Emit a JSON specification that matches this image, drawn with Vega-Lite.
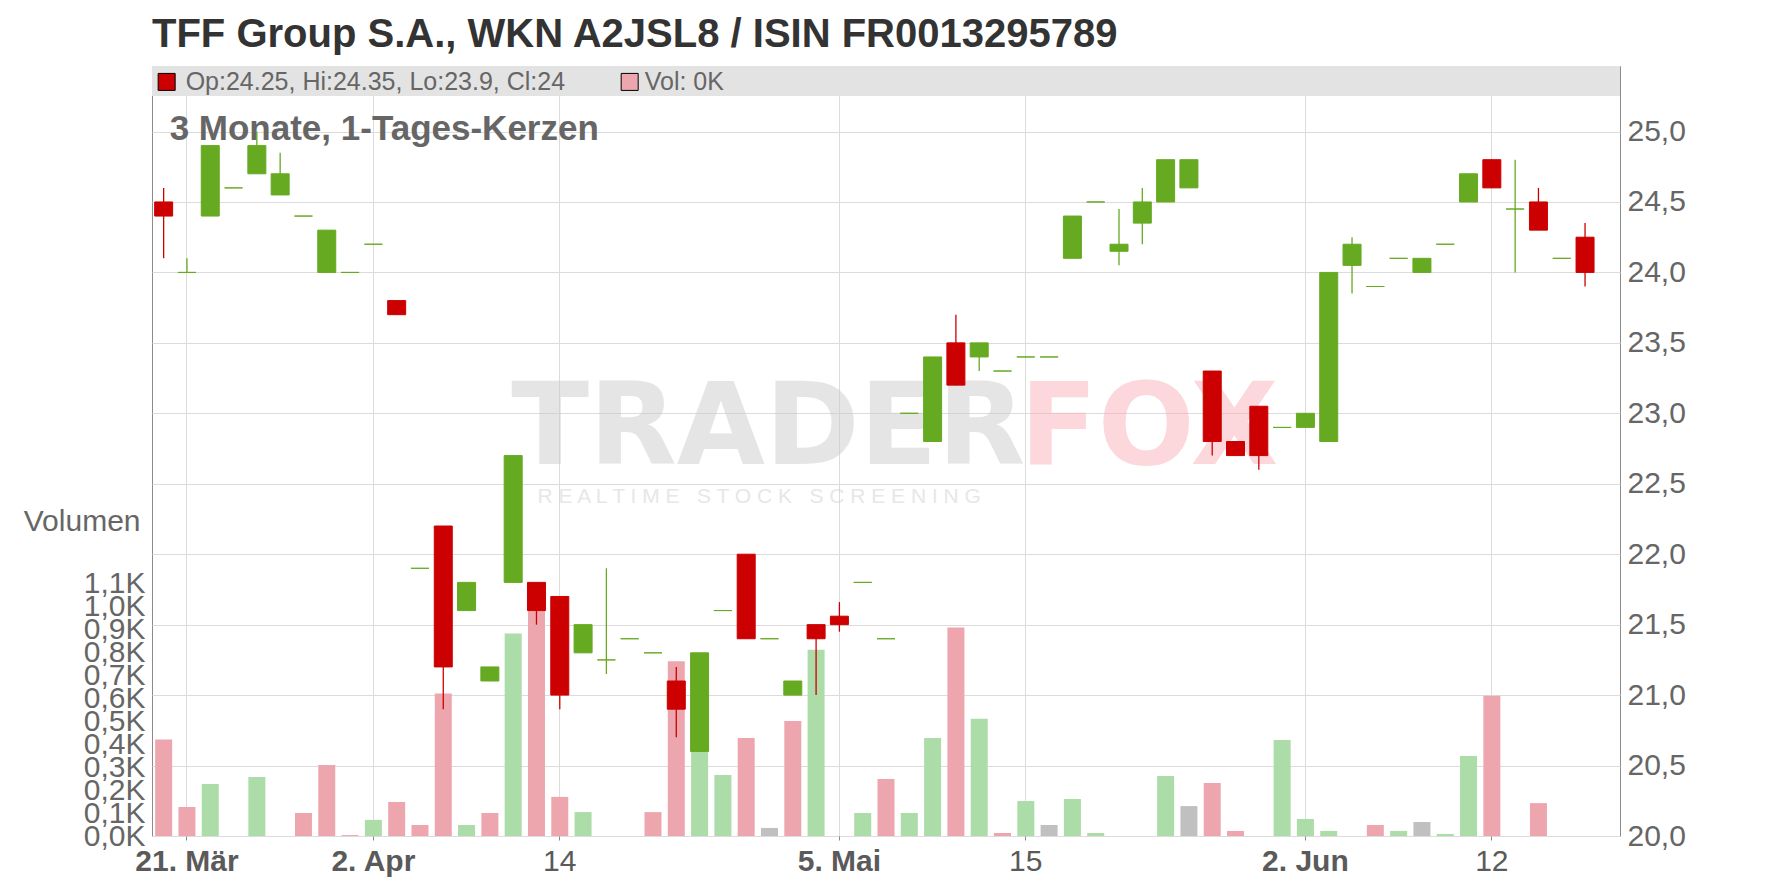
{
  "$schema": "https://vega.github.io/schema/vega-lite/v6.json",
  "width": 1468,
  "height": 770,
  "autosize": {"type": "none"},
  "padding": {"left": 152, "top": 66, "right": 156, "bottom": 52},
  "background": "#ffffff",
  "title": {"text": "TFF Group S.A., WKN A2JSL8 / ISIN FR0013295789", "anchor": "start", "frame": "group", "font": "Liberation Sans", "fontSize": 40, "fontWeight": "bold", "color": "#333333", "offset": 10, "dy": 31, "baseline": "alphabetic"},
  "config": {"font": "Liberation Sans", "view": {"stroke": "#8c8c8c", "strokeWidth": 1}},
  "data": {"values": [
    {"t":"2025-03-20","o":24.5,"h":24.6,"l":24.1,"c":24.4,"v":0.42,"vd":"down"},
    {"t":"2025-03-21","o":24.0,"h":24.1,"l":24.0,"c":24.0,"v":0.126,"vd":"down"},
    {"t":"2025-03-24","o":24.4,"h":24.9,"l":24.4,"c":24.9,"v":0.226,"vd":"up"},
    {"t":"2025-03-25","o":24.6,"h":24.6,"l":24.6,"c":24.6,"v":0,"vd":"down"},
    {"t":"2025-03-26","o":24.7,"h":25.0,"l":24.7,"c":24.9,"v":0.257,"vd":"up"},
    {"t":"2025-03-27","o":24.55,"h":24.85,"l":24.55,"c":24.7,"v":0,"vd":"down"},
    {"t":"2025-03-28","o":24.4,"h":24.4,"l":24.4,"c":24.4,"v":0.1,"vd":"down"},
    {"t":"2025-03-31","o":24.0,"h":24.3,"l":24.0,"c":24.3,"v":0.309,"vd":"down"},
    {"t":"2025-04-01","o":24.0,"h":24.0,"l":24.0,"c":24.0,"v":0.004,"vd":"down"},
    {"t":"2025-04-02","o":24.2,"h":24.2,"l":24.2,"c":24.2,"v":0.07,"vd":"up"},
    {"t":"2025-04-03","o":23.8,"h":23.8,"l":23.7,"c":23.7,"v":0.148,"vd":"down"},
    {"t":"2025-04-04","o":21.9,"h":21.9,"l":21.9,"c":21.9,"v":0.048,"vd":"down"},
    {"t":"2025-04-07","o":22.2,"h":22.2,"l":20.9,"c":21.2,"v":0.62,"vd":"down"},
    {"t":"2025-04-08","o":21.6,"h":21.8,"l":21.6,"c":21.8,"v":0.048,"vd":"up"},
    {"t":"2025-04-09","o":21.1,"h":21.2,"l":21.1,"c":21.2,"v":0.1,"vd":"down"},
    {"t":"2025-04-10","o":21.8,"h":22.7,"l":21.8,"c":22.7,"v":0.88,"vd":"up"},
    {"t":"2025-04-11","o":21.8,"h":21.8,"l":21.5,"c":21.6,"v":0.98,"vd":"down"},
    {"t":"2025-04-14","o":21.7,"h":21.7,"l":20.9,"c":21.0,"v":0.17,"vd":"down"},
    {"t":"2025-04-15","o":21.3,"h":21.5,"l":21.3,"c":21.5,"v":0.104,"vd":"up"},
    {"t":"2025-04-16","o":21.25,"h":21.9,"l":21.15,"c":21.25,"v":0,"vd":"down"},
    {"t":"2025-04-17","o":21.4,"h":21.4,"l":21.4,"c":21.4,"v":0,"vd":"up"},
    {"t":"2025-04-22","o":21.3,"h":21.3,"l":21.3,"c":21.3,"v":0.104,"vd":"down"},
    {"t":"2025-04-23","o":21.1,"h":21.2,"l":20.7,"c":20.9,"v":0.76,"vd":"down"},
    {"t":"2025-04-24","o":20.6,"h":21.3,"l":20.6,"c":21.3,"v":0.6,"vd":"up"},
    {"t":"2025-04-25","o":21.6,"h":21.6,"l":21.6,"c":21.6,"v":0.265,"vd":"up"},
    {"t":"2025-04-28","o":22.0,"h":22.0,"l":21.4,"c":21.4,"v":0.426,"vd":"down"},
    {"t":"2025-04-29","o":21.4,"h":21.4,"l":21.4,"c":21.4,"v":0.035,"vd":"flat"},
    {"t":"2025-04-30","o":21.0,"h":21.1,"l":21.0,"c":21.1,"v":0.5,"vd":"down"},
    {"t":"2025-05-02","o":21.5,"h":21.5,"l":21.0,"c":21.4,"v":0.81,"vd":"up"},
    {"t":"2025-05-05","o":21.56,"h":21.66,"l":21.45,"c":21.5,"v":0,"vd":"up"},
    {"t":"2025-05-06","o":21.8,"h":21.8,"l":21.8,"c":21.8,"v":0.1,"vd":"up"},
    {"t":"2025-05-07","o":21.4,"h":21.4,"l":21.4,"c":21.4,"v":0.248,"vd":"down"},
    {"t":"2025-05-08","o":23.0,"h":23.0,"l":23.0,"c":23.0,"v":0.1,"vd":"up"},
    {"t":"2025-05-09","o":22.8,"h":23.4,"l":22.8,"c":23.4,"v":0.426,"vd":"up"},
    {"t":"2025-05-12","o":23.5,"h":23.7,"l":23.2,"c":23.2,"v":0.907,"vd":"down"},
    {"t":"2025-05-13","o":23.4,"h":23.5,"l":23.3,"c":23.5,"v":0.51,"vd":"up"},
    {"t":"2025-05-14","o":23.3,"h":23.3,"l":23.3,"c":23.3,"v":0.013,"vd":"down"},
    {"t":"2025-05-15","o":23.4,"h":23.4,"l":23.4,"c":23.4,"v":0.152,"vd":"up"},
    {"t":"2025-05-16","o":23.4,"h":23.4,"l":23.4,"c":23.4,"v":0.048,"vd":"flat"},
    {"t":"2025-05-19","o":24.1,"h":24.4,"l":24.1,"c":24.4,"v":0.161,"vd":"up"},
    {"t":"2025-05-20","o":24.5,"h":24.5,"l":24.5,"c":24.5,"v":0.013,"vd":"up"},
    {"t":"2025-05-21","o":24.15,"h":24.45,"l":24.05,"c":24.2,"v":0,"vd":"down"},
    {"t":"2025-05-22","o":24.35,"h":24.6,"l":24.2,"c":24.5,"v":0,"vd":"up"},
    {"t":"2025-05-23","o":24.5,"h":24.8,"l":24.5,"c":24.8,"v":0.261,"vd":"up"},
    {"t":"2025-05-26","o":24.6,"h":24.8,"l":24.6,"c":24.8,"v":0.13,"vd":"flat"},
    {"t":"2025-05-27","o":23.3,"h":23.3,"l":22.7,"c":22.8,"v":0.23,"vd":"down"},
    {"t":"2025-05-28","o":22.8,"h":22.8,"l":22.7,"c":22.7,"v":0.022,"vd":"down"},
    {"t":"2025-05-29","o":23.05,"h":23.05,"l":22.6,"c":22.7,"v":0,"vd":"flat"},
    {"t":"2025-05-30","o":22.9,"h":22.9,"l":22.9,"c":22.9,"v":0.417,"vd":"up"},
    {"t":"2025-06-02","o":22.9,"h":23.0,"l":22.9,"c":23.0,"v":0.074,"vd":"up"},
    {"t":"2025-06-03","o":22.8,"h":24.0,"l":22.8,"c":24.0,"v":0.022,"vd":"up"},
    {"t":"2025-06-04","o":24.05,"h":24.25,"l":23.85,"c":24.2,"v":0,"vd":"up"},
    {"t":"2025-06-05","o":23.9,"h":23.9,"l":23.9,"c":23.9,"v":0.048,"vd":"down"},
    {"t":"2025-06-06","o":24.1,"h":24.1,"l":24.1,"c":24.1,"v":0.022,"vd":"up"},
    {"t":"2025-06-09","o":24.0,"h":24.1,"l":24.0,"c":24.1,"v":0.061,"vd":"flat"},
    {"t":"2025-06-10","o":24.2,"h":24.2,"l":24.2,"c":24.2,"v":0.009,"vd":"up"},
    {"t":"2025-06-11","o":24.5,"h":24.7,"l":24.5,"c":24.7,"v":0.348,"vd":"up"},
    {"t":"2025-06-12","o":24.8,"h":24.8,"l":24.6,"c":24.6,"v":0.61,"vd":"down"},
    {"t":"2025-06-13","o":24.45,"h":24.8,"l":24.0,"c":24.45,"v":0,"vd":"down"},
    {"t":"2025-06-16","o":24.5,"h":24.6,"l":24.3,"c":24.3,"v":0.143,"vd":"down"},
    {"t":"2025-06-17","o":24.1,"h":24.1,"l":24.1,"c":24.1,"v":0,"vd":"down"},
    {"t":"2025-06-18","o":24.25,"h":24.35,"l":23.9,"c":24.0,"v":0,"vd":"down"}
  ]},
  "layer": [
    {
      "mark": {"type": "bar", "width": 17},
      "encoding": {
        "x": {
          "field": "t", "type": "ordinal", "sort": null, "title": null,
          "scale": {"paddingInner": 0, "paddingOuter": 0, "domain": ["2025-03-20","2025-03-21","2025-03-24","2025-03-25","2025-03-26","2025-03-27","2025-03-28","2025-03-31","2025-04-01","2025-04-02","2025-04-03","2025-04-04","2025-04-07","2025-04-08","2025-04-09","2025-04-10","2025-04-11","2025-04-14","2025-04-15","2025-04-16","2025-04-17","2025-04-22","2025-04-23","2025-04-24","2025-04-25","2025-04-28","2025-04-29","2025-04-30","2025-05-02","2025-05-05","2025-05-06","2025-05-07","2025-05-08","2025-05-09","2025-05-12","2025-05-13","2025-05-14","2025-05-15","2025-05-16","2025-05-19","2025-05-20","2025-05-21","2025-05-22","2025-05-23","2025-05-26","2025-05-27","2025-05-28","2025-05-29","2025-05-30","2025-06-02","2025-06-03","2025-06-04","2025-06-05","2025-06-06","2025-06-09","2025-06-10","2025-06-11","2025-06-12","2025-06-13","2025-06-16","2025-06-17","2025-06-18","2025-06-19"]},
          "axis": {
            "title": null,
            "values": ["2025-03-21","2025-04-02","2025-04-14","2025-05-05","2025-05-15","2025-06-02","2025-06-12"],
            "labelExpr": "datum.value == '2025-03-21' ? '21. Mär' : datum.value == '2025-04-02' ? '2. Apr' : datum.value == '2025-04-14' ? '14' : datum.value == '2025-05-05' ? '5. Mai' : datum.value == '2025-05-15' ? '15' : datum.value == '2025-06-02' ? '2. Jun' : '12'",
            "labelFontSize": 30,
            "labelColor": "#5a5a5a",
            "labelFontWeight": {"condition": {"test": "datum.value == '2025-04-14' || datum.value == '2025-05-15' || datum.value == '2025-06-12'", "value": "normal"}, "value": "bold"},
            "labelAngle": 0,
            "labelPadding": 6,
            "labelOverlap": false,
            "grid": true,
            "gridColor": "#dcdcdc",
            "domain": false,
            "ticks": true,
            "tickSize": 4,
            "tickColor": "#888888"
          }
        },
        "y": {
          "field": "v", "type": "quantitative",
          "scale": {"domain": [0, 3.348], "nice": false, "zero": true},
          "axis": {
            "orient": "left",
            "values": [0, 0.1, 0.2, 0.3, 0.4, 0.5, 0.6, 0.7, 0.8, 0.9, 1.0, 1.1],
            "labelExpr": "replace(format(datum.value, '.1f'), '.', ',') + 'K'",
            "labelFontSize": 30,
            "labelColor": "#666666",
            "labelPadding": 7,
            "labelOverlap": false,
            "ticks": false,
            "domain": false,
            "grid": false,
            "title": "Volumen",
            "titleAngle": 0,
            "titleAlign": "right",
            "titleBaseline": "middle",
            "titleX": -12,
            "titleY": 455,
            "titleFontSize": 30,
            "titleFontWeight": "normal",
            "titleColor": "#666666"
          }
        },
        "color": {"field": "vd", "type": "nominal", "scale": {"domain": ["up", "down", "flat"], "range": ["#acdca8", "#eea6ae", "#c0c0c0"]}, "legend": null}
      }
    },
    {
      "layer": [
        {
          "data": {"values": [{}]},
          "mark": {"type": "text", "text": "TRADER", "font": "DejaVu Sans", "fontWeight": "bold", "fontSize": 114, "fill": "#cccccc", "opacity": 0.5, "align": "left", "baseline": "alphabetic", "dx": -2},
          "encoding": {"x": {"datum": "2025-04-10", "type": "ordinal"}, "y": {"datum": 22.64, "type": "quantitative"}}
        },
        {
          "data": {"values": [{}]},
          "mark": {"type": "text", "text": "FOX", "font": "DejaVu Sans", "fontWeight": "bold", "fontSize": 114, "fill": "#f9a9b4", "opacity": 0.45, "align": "left", "baseline": "alphabetic", "dx": -6},
          "encoding": {"x": {"datum": "2025-05-15", "type": "ordinal"}, "y": {"datum": 22.64, "type": "quantitative"}}
        },
        {
          "data": {"values": [{}]},
          "mark": {"type": "text", "text": "R E A L T I M E \u00a0 S T O C K \u00a0 S C R E E N I N G", "fontSize": 21, "fill": "#d0d0d0", "opacity": 0.5, "align": "left", "baseline": "alphabetic", "dx": 1},
          "encoding": {"x": {"datum": "2025-04-11", "type": "ordinal"}, "y": {"datum": 22.363, "type": "quantitative"}}
        },
        {
          "data": {"values": [{}]},
          "mark": {"type": "rect", "fill": "#e3e3e3"},
          "encoding": {"x": {"value": 0}, "x2": {"value": "width"}, "y": {"datum": 25.465, "type": "quantitative"}, "y2": {"datum": 25.252}}
        },
        {
          "data": {"values": [{}]},
          "mark": {"type": "point", "shape": "square", "size": 289, "filled": true, "fill": "#cc0000", "stroke": "#000000", "strokeWidth": 1, "opacity": 1, "xOffset": 3},
          "encoding": {"x": {"datum": "2025-03-20", "type": "ordinal"}, "y": {"datum": 25.352, "type": "quantitative"}}
        },
        {
          "data": {"values": [{}]},
          "mark": {"type": "text", "text": "Op:24.25, Hi:24.35, Lo:23.9, Cl:24", "fontSize": 25, "fill": "#666666", "align": "left", "baseline": "alphabetic", "dx": 22},
          "encoding": {"x": {"datum": "2025-03-20", "type": "ordinal"}, "y": {"datum": 25.295, "type": "quantitative"}}
        },
        {
          "data": {"values": [{}]},
          "mark": {"type": "point", "shape": "square", "size": 289, "filled": true, "fill": "#eea6ae", "stroke": "#000000", "strokeWidth": 1, "opacity": 1},
          "encoding": {"x": {"datum": "2025-04-17", "type": "ordinal"}, "y": {"datum": 25.352, "type": "quantitative"}}
        },
        {
          "data": {"values": [{}]},
          "mark": {"type": "text", "text": "Vol: 0K", "fontSize": 25, "fill": "#666666", "align": "left", "baseline": "alphabetic", "dx": 15},
          "encoding": {"x": {"datum": "2025-04-17", "type": "ordinal"}, "y": {"datum": 25.295, "type": "quantitative"}}
        },
        {
          "data": {"values": [{}]},
          "mark": {"type": "text", "text": "3 Monate, 1-Tages-Kerzen", "fontSize": 35, "fontWeight": "bold", "fill": "#666666", "align": "left", "baseline": "alphabetic", "dx": 6},
          "encoding": {"x": {"datum": "2025-03-20", "type": "ordinal"}, "y": {"datum": 24.94, "type": "quantitative"}}
        },
        {
          "mark": {"type": "rule", "strokeWidth": 1.3},
          "encoding": {
            "x": {"field": "t", "type": "ordinal", "sort": null},
            "y": {
              "field": "l", "type": "quantitative",
              "scale": {"domain": [20, 25.465], "nice": false, "zero": false},
              "axis": {
                "orient": "right",
                "title": null,
                "values": [20, 20.5, 21, 21.5, 22, 22.5, 23, 23.5, 24, 24.5, 25],
                "labelExpr": "replace(format(datum.value, '.1f'), '.', ',')",
                "labelFontSize": 30,
                "labelColor": "#666666",
                "labelPadding": 7,
                "labelOverlap": false,
                "ticks": false,
                "domain": false,
                "grid": true,
                "gridColor": "#dcdcdc"
              }
            },
            "y2": {"field": "h"},
            "color": {"condition": {"test": "datum.c >= datum.o", "value": "#66aa22"}, "value": "#cc0000"}
          }
        },
        {
          "mark": {"type": "bar", "width": 18, "strokeWidth": 1},
          "encoding": {
            "x": {"field": "t", "type": "ordinal", "sort": null},
            "y": {"field": "o", "type": "quantitative", "scale": {"domain": [20, 25.465], "nice": false, "zero": false}},
            "y2": {"field": "c"},
            "color": {"condition": {"test": "datum.c >= datum.o", "value": "#66aa22"}, "value": "#cc0000"},
            "stroke": {"condition": {"test": "datum.c >= datum.o", "value": "#66aa22"}, "value": "#cc0000"}
          }
        }
      ]
    }
  ],
  "resolve": {"scale": {"y": "independent"}, "axis": {"y": "independent"}}
}
